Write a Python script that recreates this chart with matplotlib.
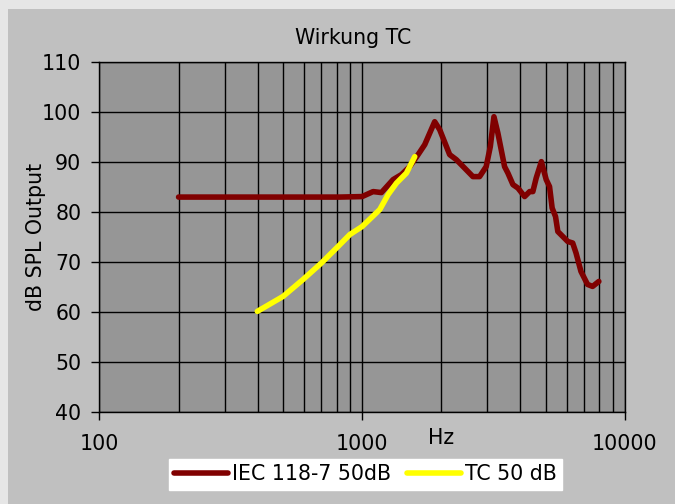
import matplotlib
matplotlib.use("Agg")
import matplotlib.pyplot as plt
from matplotlib.patches import Rectangle
from matplotlib.ticker import FixedLocator, NullFormatter

# IEC 118-7 curve (Hz, dB)
iec_freq = [200, 500, 822, 1000, 1101, 1184, 1312, 1411, 1518, 1633, 1731, 1889,
            1974, 2154, 2283, 2456, 2641, 2800, 2967, 3076, 3176, 3288, 3486,
            3590, 3751, 3920, 4155, 4343, 4467, 4599, 4813, 5021, 5170, 5290,
            5449, 5560, 5808, 6066, 6334, 6522, 6811, 7214, 7542, 7967]
iec_db = [83.0, 83.0, 83.0, 83.1, 84.1, 83.9, 86.5, 87.5, 89.1, 91.5, 93.5, 98.1,
          96.5, 91.5, 90.5, 88.8, 87.1, 87.1, 89.1, 93.1, 99.1, 95.8, 89.1,
          87.8, 85.5, 84.8, 83.1, 84.1, 84.1, 86.8, 90.1, 86.5, 85.1, 80.8,
          79.1, 76.1, 75.1, 74.1, 73.8, 71.8, 68.1, 65.5, 65.1, 66.1]

# TC curve
tc_freq = [399, 500, 596, 700, 799, 898, 1000, 1167, 1256, 1351, 1474, 1586]
tc_db = [60.1, 63.1, 66.5, 69.8, 72.8, 75.5, 77.1, 80.5, 83.5, 85.8, 87.8, 91.1]

x_ticks = [100, 1000, 10000]
y_ticks = [40, 50, 60, 70, 80, 90, 100, 110]

FS = 14.8

fig = plt.figure(figsize=(6.75, 5.04), dpi=100, facecolor="#e6e6e6")
fig.patches.append(Rectangle((8 / 675, 0), 1, 1 - 9 / 504, transform=fig.transFigure,
                             facecolor="#c0c0c0", edgecolor="none", zorder=-10))

ax = fig.add_axes([0.1474, 0.1831, 0.9256 - 0.1474, 0.8764 - 0.1831])
ax.set_facecolor("#969696")
ax.set_xscale("log")
ax.set_xlim(100, 10000)
ax.set_ylim(40, 110)

ax.plot(iec_freq, iec_db, color="#800000", lw=4.0, solid_capstyle="round",
        solid_joinstyle="round", label="IEC 118-7 50dB")
ax.plot(tc_freq, tc_db, color="#ffff00", lw=4.0, solid_capstyle="round",
        solid_joinstyle="round", label="TC 50 dB")

ax.xaxis.set_major_locator(FixedLocator(x_ticks))
ax.set_xticklabels([str(t) for t in x_ticks])
ax.xaxis.set_minor_locator(FixedLocator([m * d for d in (100, 1000) for m in range(2, 10)]))
ax.xaxis.set_minor_formatter(NullFormatter())
ax.set_yticks(y_ticks)

ax.grid(True, which="both", axis="x", color="black", lw=1.0)
ax.grid(True, which="major", axis="y", color="black", lw=1.0)
ax.set_axisbelow(True)
ax.tick_params(axis="both", which="major", direction="out", length=6, width=1,
               labelsize=FS, color="black")
ax.tick_params(axis="y", pad=7)
ax.tick_params(axis="x", pad=10)
ax.tick_params(axis="x", which="minor", length=0)
for s in ax.spines.values():
    s.set_color("black")
    s.set_linewidth(1.0)

ax.set_ylabel("dB SPL Output", fontsize=FS)
ax.yaxis.set_label_coords((46 - 99.5) / 525, 0.5)
fig.text(353 / 675, 1 - 38 / 504, "Wirkung TC", ha="center", va="center", fontsize=FS)
fig.text(441 / 675, 1 - 438 / 504, "Hz", ha="center", va="center", fontsize=FS)

leg = fig.legend(loc="center", bbox_to_anchor=(365.5 / 675, 29.5 / 504), ncol=2,
                 fontsize=FS, frameon=True, fancybox=False, framealpha=1,
                 handlelength=2.6, handletextpad=0.2, columnspacing=0.8,
                 borderpad=0.25)
leg.get_frame().set_facecolor("white")
leg.get_frame().set_edgecolor("white")

fig.savefig("out.png", dpi=100, facecolor=fig.get_facecolor())
